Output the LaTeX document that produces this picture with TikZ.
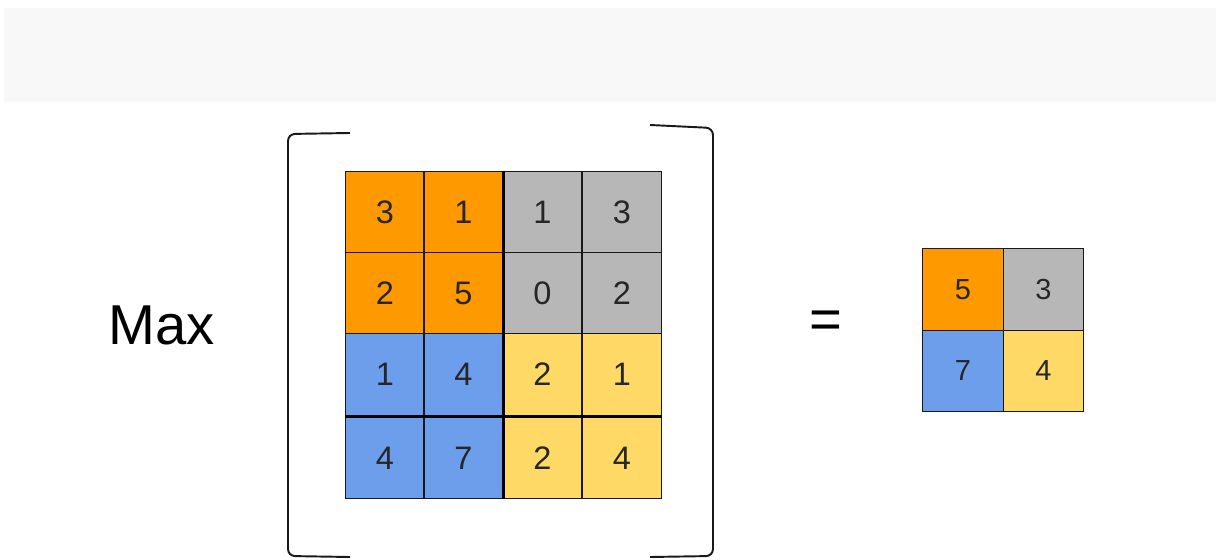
\documentclass[tikz,border=0pt]{standalone}
\usepackage{fontspec}
\setmainfont{Liberation Sans}
\usetikzlibrary{positioning}
\definecolor{poolOrange}{RGB}{255,153,0}
\definecolor{poolGray}{RGB}{183,183,183}
\definecolor{poolBlue}{RGB}{109,158,235}
\definecolor{poolYellow}{RGB}{255,217,102}
\definecolor{bandGray}{RGB}{248,248,248}
\tikzset{
	cell/.style={
		draw=black!90,
		line width=0.8pt,
		inner sep=0pt,
		minimum width=1.58cm,
		minimum height=1.63cm,
		text=black!85,
		font=\fontsize{18.5}{18.5}\selectfont
	},
	scell/.style={
		cell,
		minimum width=1.61cm,
		minimum height=1.63cm,
		font=\fontsize{16.5}{16.5}\selectfont
	},
	bracket/.style={line width=1.1pt, black!90, rounded corners=4pt},
	sep/.style={line width=1.8pt, black}
}
\begin{document}
\begin{tikzpicture}[x=0.02cm, y=-0.02cm]
	\useasboundingbox[fill=white] (0,0) rectangle (1216,560);
	\fill[bandGray] (4,8) rectangle (1216,102);
	\node[font=\fontsize{32}{32}\selectfont] (max) at (162,325) {Max};
	% input 4x4
	\node[cell, fill=poolOrange] (a11) at (385,212) {3};
	\node[cell, fill=poolOrange] (a12) at (463.5,212) {1};
	\node[cell, fill=poolGray] (a13) at (542.5,212) {1};
	\node[cell, fill=poolGray] (a14) at (622,212) {3};
	\node[cell, fill=poolOrange] (a21) at (385,293) {2};
	\node[cell, fill=poolOrange] (a22) at (463.5,293) {5};
	\node[cell, fill=poolGray] (a23) at (542.5,293) {0};
	\node[cell, fill=poolGray] (a24) at (622,293) {2};
	\node[cell, fill=poolBlue] (a31) at (385,374.5) {1};
	\node[cell, fill=poolBlue] (a32) at (463.5,374.5) {4};
	\node[cell, fill=poolYellow] (a33) at (542.5,374.5) {2};
	\node[cell, fill=poolYellow] (a34) at (622,374.5) {1};
	\node[cell, fill=poolBlue] (a41) at (385,458) {4};
	\node[cell, fill=poolBlue] (a42) at (463.5,458) {7};
	\node[cell, fill=poolYellow] (a43) at (542.5,458) {2};
	\node[cell, fill=poolYellow] (a44) at (622,458) {4};
	\draw[sep] (a12.north east) -- (a42.south east);
	\draw[sep] (a41.north west) -- (a44.north east);
	% brackets
	\draw[bracket] (350,133) -- (288,134) -- (288,556) -- (350,557);
	\draw[bracket] (650,125) -- (713,128) -- (713,556) -- (650,557);
	\node[font=\fontsize{32}{32}\selectfont] (eq) at (826,325) {=};
	% pooled 2x2
	\node[scell, fill=poolOrange] (b11) at (963,289.5) {5};
	\node[scell, fill=poolGray] (b12) at (1043.5,289.5) {3};
	\node[scell, fill=poolBlue] (b21) at (963,371) {7};
	\node[scell, fill=poolYellow] (b22) at (1043.5,371) {4};
\end{tikzpicture}
\end{document}
